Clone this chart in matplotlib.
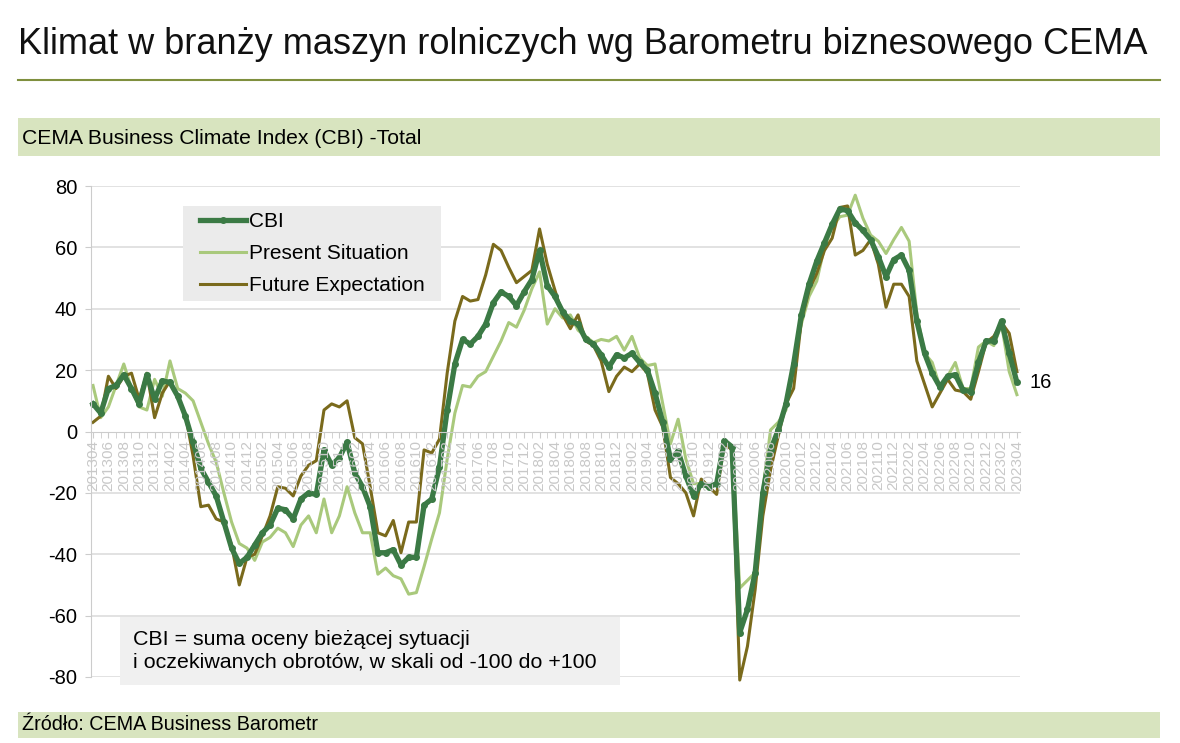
import numpy as np
import pandas as pd
import matplotlib
matplotlib.use("Agg")
import matplotlib.pyplot as plt
from matplotlib.patches import Rectangle
from matplotlib.lines import Line2D

plt.rcParams['font.family'] = ['Liberation Sans', 'DejaVu Sans']
plt.rcParams['axes.unicode_minus'] = False

# miesiące 2013-04 .. 2023-04
months = pd.period_range('2013-04', '2023-04', freq='M').strftime('%Y%m').tolist()

cbi = [9, 6, 14, 15, 18.5, 14, 9, 18.5, 10.5, 16.5, 16, 11.5, 5, -3.5, -12, -16.5, -21, -29.5, -38, -43,
       -41, -37, -33, -30.5, -25, -25.5, -28.5, -22, -20, -20.5, -6, -11, -8.5, -3.5, -13.5, -18, -24.5, -39.5, -39.5, -38.5,
       -43.5, -41, -41, -24, -22, -11.5, 7, 22, 30, 28.5, 31, 35, 42, 45.5, 44, 41, 45.5, 49.5, 59, 47.5,
       44, 39, 36, 35, 30, 28.5, 25, 21, 25, 24, 25.5, 22.5, 20, 12.5, 3, -9, -6.5, -14.5, -21, -17,
       -18, -17, -3, -5, -65.5, -58, -46, -20, -6, 0.5, 9, 22, 38, 48, 55.5, 61.5, 67.5, 72.5, 72, 68,
       65.5, 62.5, 57, 50.5, 56, 57.5, 52.5, 36, 25.5, 19, 14.5, 18, 18.5, 13.5, 13, 22.5, 29.5, 29.5, 36, 25.5,
       16]

present = [15, 4.5, 8, 15, 22, 14, 8, 7, 17, 11.5, 23, 14, 12.5, 10, 3, -4, -10, -20, -29.5, -36.5,
           -38, -42, -36, -34.5, -31.5, -33, -37.5, -30.5, -27.5, -33, -22, -33, -27.5, -18, -26.5, -33, -33, -46.5, -44.5, -47,
           -48, -53, -52.5, -44, -35, -26.5, -9, 6, 15, 14.5, 18, 19.5, 24.5, 29.5, 35.5, 34, 39.5, 46.5, 52, 35,
           40, 37, 38, 33, 31, 29, 30, 29.5, 31, 26.5, 31, 24, 21.5, 22, 9, -4, 4, -9, -17, -17,
           -18, -17, -4, -5, -51, -48.5, -46, -19, 0.5, 3, 7, 21, 35, 44, 49, 60, 66.5, 70, 70.5, 77,
           69.5, 64, 62, 58, 62.5, 66.5, 62, 38.5, 25.5, 22.5, 14.5, 18, 22.5, 14, 14, 27.5, 29.5, 28, 35, 19.5,
           12]

future = [3, 5, 18, 14, 18, 19, 10.5, 19, 4.5, 12.5, 16.5, 11.5, 5.5, -8, -24.5, -24, -28.5, -29.5, -37, -50,
          -41, -40, -34, -27.5, -18, -18.5, -21, -14.5, -11, -9.5, 7, 9, 8, 10, -2, -4, -18, -33, -34, -29,
          -39.5, -29.5, -29.5, -6, -7, -2.5, 19, 36, 44, 42.5, 43, 51, 61, 59, 53.5, 48.5, 50.5, 52.5, 66, 54.5,
          46, 38, 33.5, 38, 29.5, 28, 23, 13, 18, 21, 19.5, 22, 19, 7, 1.5, -15, -17, -20, -27.5, -15.5,
          -18, -20.5, -4, -6, -81, -70, -51.5, -27.5, -12.5, -1.5, 9, 14, 36, 46, 51.5, 59, 63, 73, 73.5, 57.5,
          59, 62.5, 54.5, 40.5, 48, 48, 44, 23, 15.5, 8, 12.5, 17, 13.5, 13, 10.5, 19.5, 29, 31, 35.5, 32,
          19.5]

c_cbi = '#3b7a45'
c_present = '#a9c97c'
c_future = '#7a6a1c'

fig = plt.figure(figsize=(11.8, 7.43), dpi=100)

# nagłówek
fig.text(18 / 1180, 1 - 45 / 743, 'Klimat w branży maszyn rolniczych wg Barometru biznesowego CEMA',
         fontsize=26, va='center', ha='left', color='#111111')
fig.add_artist(Line2D([18 / 1180, 1160 / 1180], [1 - 80 / 743, 1 - 80 / 743], color='#7f8f3e', lw=1.5))

# pasy
fig.add_artist(Rectangle((18 / 1180, 1 - 156 / 743), 1142 / 1180, 38 / 743, color='#d8e4bf', lw=0))
fig.text(22 / 1180, 1 - 138 / 743, 'CEMA Business Climate Index (CBI) -Total', fontsize=15.2, va='center')
fig.add_artist(Rectangle((18 / 1180, 1 - 738 / 743), 1142 / 1180, 26 / 743, color='#d8e4bf', lw=0))
fig.text(22 / 1180, 1 - 725 / 743, 'Źródło: CEMA Business Barometr', fontsize=14.2, va='center')

ax = fig.add_axes([91 / 1180, 66 / 743, 929 / 1180, 491 / 743])
x = np.arange(len(months))

for v in [-80, -60, -40, -20, 20, 40, 60, 80]:
    ax.axhline(v, color='#dddddd', lw=1.2, zorder=0)

ax.plot(x, present, color=c_present, lw=2.2, label='Present Situation', clip_on=False, zorder=2)
ax.plot(x, future, color=c_future, lw=2.2, label='Future Expectation', clip_on=False, zorder=2.1)
ax.plot(x, cbi, color=c_cbi, lw=3.8, marker='o', ms=4, label='CBI', clip_on=False, zorder=2.2)

for s in ['top', 'right']:
    ax.spines[s].set_visible(False)
ax.spines['bottom'].set_position(('data', 0))
ax.spines['bottom'].set_color('#cccccc')
ax.spines['left'].set_color('#cccccc')

ax.set_xlim(-0.26, 120.4)
ax.set_ylim(-80, 80)
ax.set_yticks(range(-80, 81, 20))
ax.set_xticks(x, minor=True)
ax.set_xticks(x[::2])
ax.set_xticklabels(months[::2], rotation=90, fontsize=11, color='#c8c8c8', va='top')
ax.tick_params(axis='x', which='both', length=4, color='#cccccc', pad=2)
ax.tick_params(axis='y', length=4, color='#cccccc', labelsize=14.5, pad=6)
ax.set_axisbelow(False)
ax.patch.set_visible(False)

# legenda: szare tło + legenda bez ramki
ax.add_patch(Rectangle(((183 - 91) / 929, (677 - 301) / 491), 258 / 929, 95 / 491,
                       transform=ax.transAxes, color='#ebebeb', lw=0, zorder=4))
h, l = ax.get_legend_handles_labels()
order = [2, 0, 1]
leg = ax.legend([h[i] for i in order], [l[i] for i in order], loc='upper left',
                bbox_to_anchor=((200 - 91) / 929, (677 - 212) / 491), fontsize=15,
                frameon=False, handlelength=2.2, handletextpad=0.15, labelspacing=0.62,
                borderpad=0, borderaxespad=0)
leg.set_zorder(5)

ax.annotate('16', xy=(x[-1], cbi[-1]), xytext=(9, 0), textcoords='offset points',
            fontsize=14.5, va='center', ha='left')

# ramka z opisem
fig.add_artist(Rectangle((120 / 1180, 1 - 685 / 743), 500 / 1180, 68 / 743, color='#f0f0f0', lw=0))
fig.text(133 / 1180, 1 - 651 / 743,
         'CBI = suma oceny bieżącej sytuacji\ni oczekiwanych obrotów, w skali od -100 do +100',
         fontsize=15.4, va='center', ha='left', linespacing=1.3)

fig.savefig('out.png', dpi=100)
